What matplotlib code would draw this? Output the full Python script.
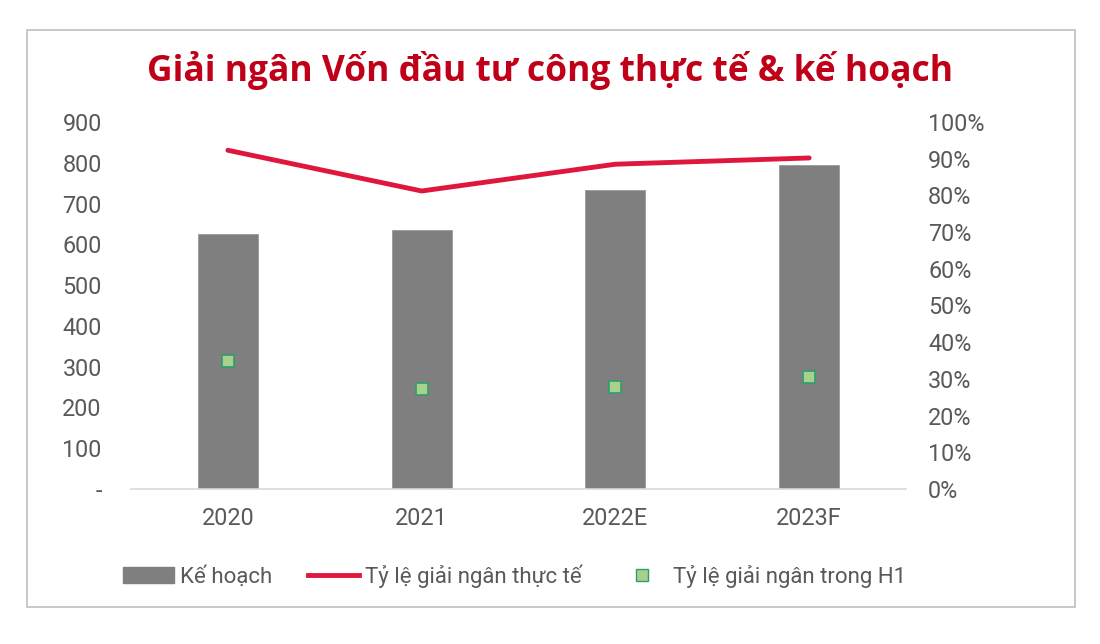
import matplotlib
matplotlib.use('Agg')
import matplotlib.pyplot as plt
from matplotlib.patches import Rectangle
from matplotlib.lines import Line2D
from matplotlib.ticker import FuncFormatter

plt.rcParams['font.family'] = ['Roboto', 'DejaVu Sans']

# du lieu
years = ['2020', '2021', '2022E', '2023F']
ke_hoach = [625, 636, 734, 794]
ty_le_thuc_te = [0.923, 0.812, 0.885, 0.902]
ty_le_h1 = [0.349, 0.273, 0.278, 0.305]
left_ticks = [0, 100, 200, 300, 400, 500, 600, 700, 800, 900]
right_ticks = [0, .1, .2, .3, .4, .5, .6, .7, .8, .9, 1.0]

grey_txt = '#595959'
bar_col = '#7f7f7f'
red = '#e0173d'

fig = plt.figure(figsize=(11, 6.44), dpi=100)
# khung vien
fig.patches.append(Rectangle((27/1100, 1-607/644), (1075-27)/1100, (607-30)/644,
                             transform=fig.transFigure, fill=False,
                             edgecolor='#bfbfbf', linewidth=1.2))

ax = fig.add_axes([131/1100, 155/644, 775/1100, 367/644])
x = range(len(years))
ax.bar(x, ke_hoach, width=0.31, color=bar_col, edgecolor='#999999', linewidth=0.6,
       label='Kế hoạch', zorder=2)
ax.set_xlim(-0.5, 3.5)
ax.set_ylim(0, 900)
ax.set_yticks(left_ticks)
ax.yaxis.set_major_formatter(FuncFormatter(lambda v, p: '-' if v == 0 else f'{int(v)}'))
ax.set_xticks(list(x))
ax.set_xticklabels(years)
for s in ['top', 'right', 'left']:
    ax.spines[s].set_visible(False)
ax.spines['bottom'].set_color('#d9d9d9')
ax.spines['bottom'].set_linewidth(1.2)
ax.tick_params(axis='y', length=0, pad=21, labelsize=16.8, labelcolor=grey_txt)
ax.tick_params(axis='x', length=0, pad=13, labelsize=16.8, labelcolor=grey_txt)

ax2 = ax.twinx()
ax2.plot(x, ty_le_thuc_te, color=red, linewidth=3.5, solid_capstyle='round',
         label='Tỷ lệ giải ngân thực tế', zorder=3)
ax2.plot(x, ty_le_h1, linestyle='none', marker='s', markersize=8,
         markerfacecolor='#a9d18e', markeredgecolor='#2e9e6e', markeredgewidth=1.2,
         label='Tỷ lệ giải ngân trong H1', zorder=4)
ax2.set_ylim(0, 1)
ax2.set_yticks(right_ticks)
ax2.yaxis.set_major_formatter(FuncFormatter(lambda v, p: f'{v*100:.0f}%'))
for s in ['top', 'right', 'left', 'bottom']:
    ax2.spines[s].set_visible(False)
ax2.tick_params(axis='y', length=0, pad=16, labelsize=16.8, labelcolor=grey_txt)

fig.text(550/1100, 1-70/644, 'Giải ngân Vốn đầu tư công thực tế & kế hoạch',
         ha='center', va='center', fontsize=25.5, fontweight='bold', color='#c00018',
         family=['Open Sans', 'DejaVu Sans'])

handles = [Rectangle((0, 0), 1, 1, color=bar_col),
           Line2D([0], [0], color=red, linewidth=3.5),
           Line2D([0], [0], linestyle='none', marker='s', markersize=8,
                  markerfacecolor='#a9d18e', markeredgecolor='#2e9e6e')]
labels = ['Kế hoạch', 'Tỷ lệ giải ngân thực tế', 'Tỷ lệ giải ngân trong H1']
fig.legend(handles, labels, loc='center', bbox_to_anchor=(515/1100, 1-576/644),
           ncol=3, frameon=False, fontsize=16, labelcolor=grey_txt,
           handlelength=2.3, handletextpad=0.25, columnspacing=1.6)

fig.savefig('out.png', dpi=100, facecolor='white')
